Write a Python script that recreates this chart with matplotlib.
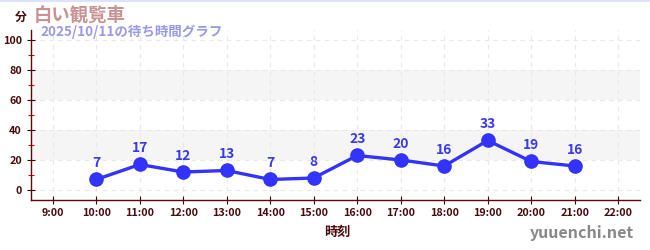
import matplotlib
matplotlib.use("Agg")
import matplotlib.pyplot as plt
from matplotlib.ticker import MultipleLocator

plt.rcParams['font.family'] = ['Noto Sans CJK JP', 'DejaVu Sans']

hours = [10, 11, 12, 13, 14, 15, 16, 17, 18, 19, 20, 21]
waits = [7, 17, 12, 13, 7, 8, 23, 20, 16, 33, 19, 16]
xtick_hours = list(range(9, 23))
xtick_labels = [f"{h}:00" for h in xtick_hours]
yticks = [0, 20, 40, 60, 80, 100]
bands = [(20, 40), (60, 80)]

title = "白い観覧車"
unit = "分"
subtitle = "2025/10/11の待ち時間グラフ"
xlabel = "時刻"
site = "yuuenchi.net"

fig = plt.figure(figsize=(6.5, 2.5), dpi=100)
fig.patch.set_facecolor("white")
ax = fig.add_axes([31/650, 1-200/250, (640-31)/650, 170/250])

ax.set_xlim(8.5, 22.5)
ax.set_ylim(-6.67, 106.67)

for lo, hi in bands:
    ax.axhspan(lo, hi, color="#f5f5f5", lw=0, zorder=0)

ax.grid(True, which="major", color="#e8e8e8", linestyle=(0, (4, 4)), lw=0.8, zorder=1)

ax.plot(hours, waits, color="#3333ff", lw=2.4, marker="o", ms=9.5, zorder=3)
for h, w in zip(hours, waits):
    ax.annotate(str(w), (h, w), xytext=(0, 6.5), textcoords="offset points",
                ha="center", va="bottom", color="#3a3aee", fontsize=10,
                fontweight="bold", zorder=4)

ax.set_xticks(xtick_hours)
ax.set_xticklabels(xtick_labels)
ax.set_yticks(yticks)
ax.yaxis.set_minor_locator(MultipleLocator(10))
ax.tick_params(axis="both", which="major", colors="#3a0a0a", labelsize=7.8,
               direction="inout", length=6, width=0.8)
ax.tick_params(axis="y", which="minor", color="#dd0000", direction="inout", length=5, width=0.8)
ax.tick_params(axis="x", pad=3)
for lab in ax.get_xticklabels() + ax.get_yticklabels():
    lab.set_fontweight("bold")
    lab.set_color("#4a0a0a")

for s in ["top", "right"]:
    ax.spines[s].set_visible(False)
for s in ["left", "bottom"]:
    ax.spines[s].set_color("#5a0a0a")
    ax.spines[s].set_linewidth(1.0)

fig.text(21/650, 1-17/250, unit, ha="center", va="center", fontsize=8.5,
         fontweight="bold", color="#4a0a0a")
fig.text(34/650, 1-15/250, title, ha="left", va="center", fontsize=13.2,
         fontweight="bold", color="#c99393")
fig.text(40/650, 1-32/250, subtitle, ha="left", va="center", fontsize=9.7,
         fontweight="bold", color="#9999ee")
fig.text(337/650, 1-232/250, xlabel, ha="center", va="center", fontsize=9.5,
         fontweight="bold", color="#4a0a0a")
fig.text(634/650, 1-233/250, site, ha="right", va="center", fontsize=11.5,
         color="#888888", fontweight="bold")

fig.add_artist(plt.Line2D([0, 1], [1-0.5/250, 1-0.5/250], color="#e0e0ff", lw=1.5,
                          transform=fig.transFigure))

fig.savefig("out.png", dpi=100)
